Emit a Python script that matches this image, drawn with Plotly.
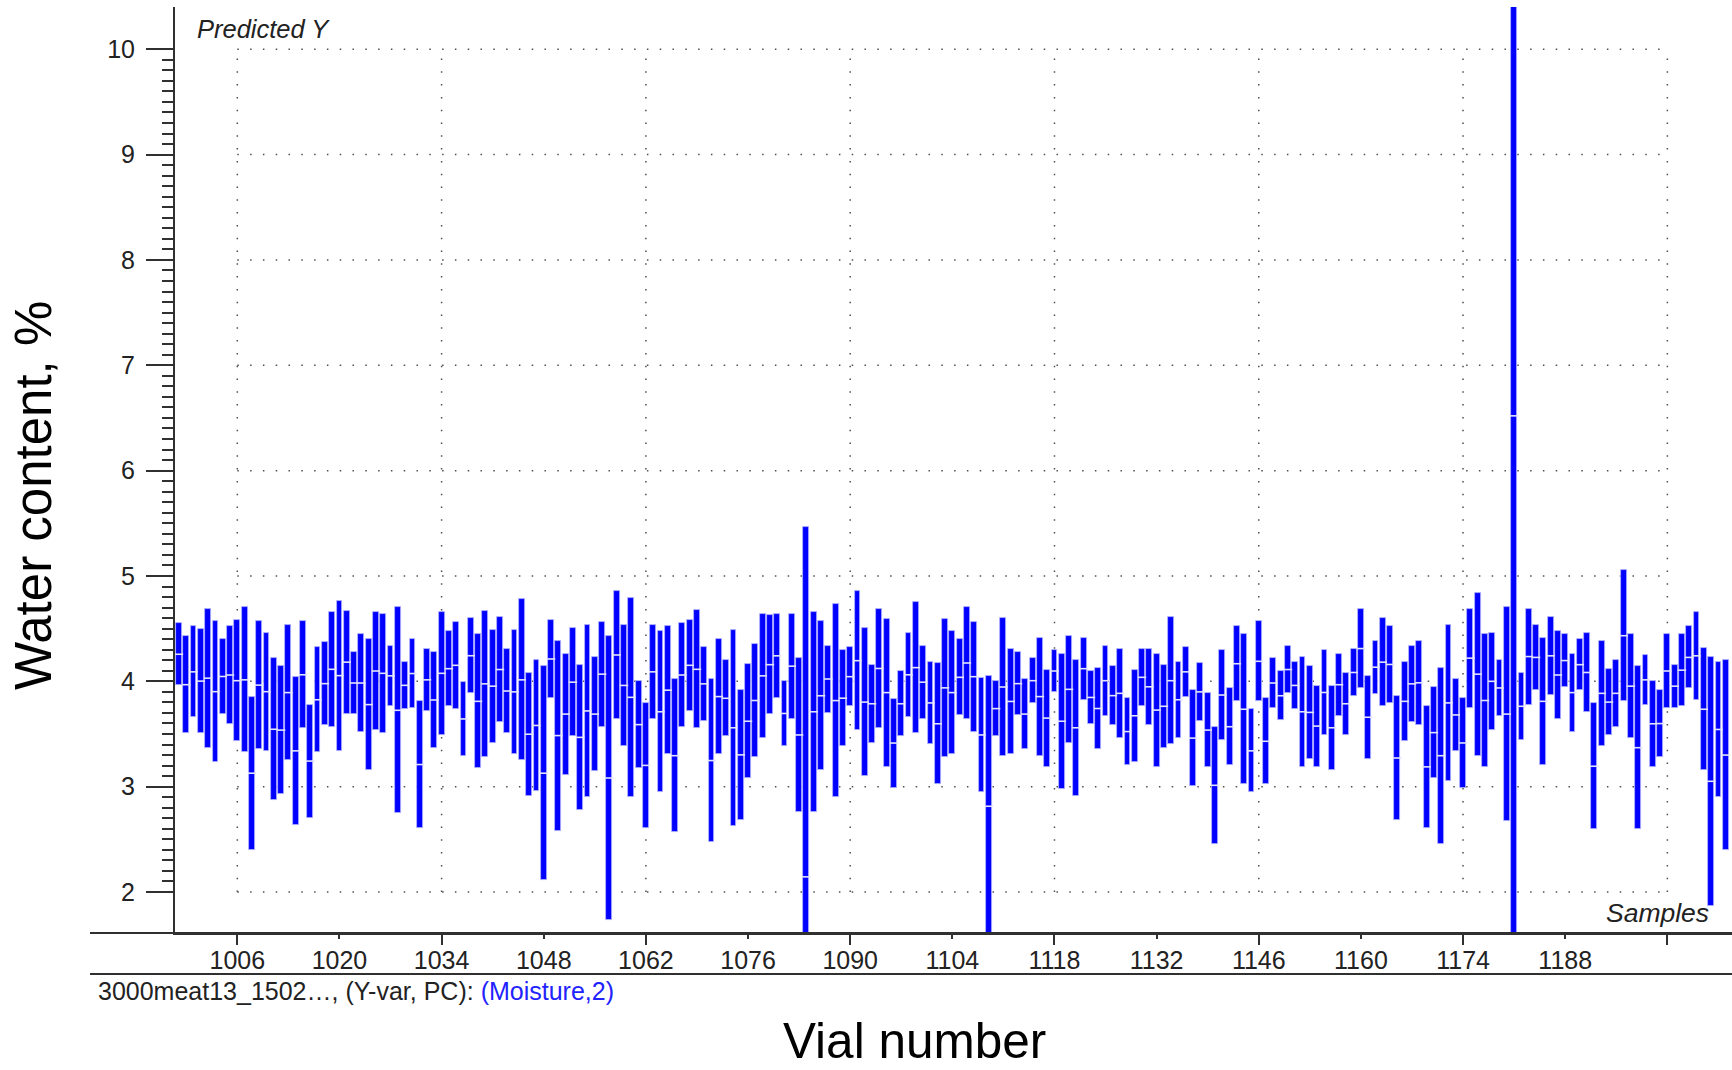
import plotly.graph_objects as go

# ---------------- data ----------------
vial = list(range(998, 1211))

predicted = [
    4.257, 3.968, 4.090, 4.002, 4.030, 3.902, 4.046, 4.060, 4.006, 4.014,
    3.128, 3.964, 3.902, 3.545, 3.537, 3.893, 3.340, 4.062, 3.243, 3.825,
    3.978, 4.114, 4.054, 4.182, 3.984, 3.984, 3.779, 4.098, 4.076, 4.052,
    3.725, 3.962, 4.074, 3.210, 4.014, 3.823, 4.076, 4.120, 4.152, 3.643,
    4.243, 3.810, 3.976, 3.954, 4.112, 3.908, 3.900, 4.014, 3.498, 3.581,
    3.128, 4.212, 3.485, 3.689, 3.992, 3.468, 3.719, 3.689, 4.068, 3.082,
    4.250, 3.961, 3.848, 3.589, 3.202, 4.090, 3.711, 3.916, 3.294, 4.060,
    4.152, 4.114, 3.976, 3.248, 3.855, 3.839, 3.559, 3.302, 3.621, 3.818,
    4.052, 4.158, 4.242, 3.695, 4.144, 3.491, 2.144, 3.711, 3.863, 4.022,
    3.817, 3.840, 4.044, 4.196, 3.803, 3.787, 4.122, 3.893, 3.414, 3.787,
    4.062, 4.130, 3.992, 3.795, 3.597, 3.938, 3.893, 4.038, 4.174, 4.044,
    3.491, 2.814, 3.741, 3.946, 3.809, 3.978, 3.689, 4.006, 3.855, 3.651,
    4.098, 3.621, 3.924, 3.559, 4.120, 3.847, 3.742, 4.006, 3.864, 3.886,
    3.523, 3.673, 4.038, 3.948, 3.727, 3.763, 4.006, 3.825, 4.090, 3.461,
    3.900, 3.537, 3.013, 3.870, 3.569, 4.167, 3.735, 3.340, 4.190, 3.431,
    3.984, 3.863, 4.112, 3.961, 3.711, 3.705, 3.575, 3.894, 3.559, 3.968,
    3.787, 4.084, 4.311, 3.659, 4.134, 4.182, 4.160, 3.272, 3.810, 3.976,
    3.986, 3.188, 3.513, 3.294, 3.795, 3.681, 3.415, 4.220, 4.068, 3.818,
    4.000, 3.937, 3.689, 6.520, 3.763, 4.235, 4.227, 3.810, 4.242, 4.060,
    4.197, 3.893, 4.158, 4.084, 3.194, 3.886, 3.803, 3.886, 4.433, 3.954,
    3.370, 4.014, 3.597, 3.599, 4.098, 3.954, 4.106, 4.227, 4.242, 3.735,
    3.051, 3.543, 3.300,
]

deviation = [
    0.294, 0.460, 0.433, 0.493, 0.660, 0.668, 0.354, 0.463, 0.577, 0.689,
    0.728, 0.607, 0.561, 0.675, 0.607, 0.643, 0.700, 0.509, 0.537, 0.499,
    0.393, 0.545, 0.712, 0.490, 0.292, 0.463, 0.621, 0.561, 0.567, 0.288,
    0.978, 0.226, 0.325, 0.599, 0.294, 0.453, 0.583, 0.355, 0.415, 0.349,
    0.355, 0.637, 0.695, 0.537, 0.499, 0.400, 0.591, 0.765, 0.583, 0.619,
    1.016, 0.371, 0.902, 0.575, 0.515, 0.689, 0.817, 0.543, 0.499, 1.349,
    0.605, 0.575, 0.946, 0.415, 0.591, 0.445, 0.765, 0.607, 0.727, 0.491,
    0.431, 0.561, 0.348, 0.773, 0.545, 0.362, 0.932, 0.615, 0.539, 0.537,
    0.591, 0.469, 0.401, 0.310, 0.499, 0.728, 3.317, 0.948, 0.705, 0.318,
    0.918, 0.455, 0.280, 0.659, 0.705, 0.370, 0.569, 0.703, 0.423, 0.310,
    0.401, 0.621, 0.348, 0.393, 0.575, 0.657, 0.583, 0.362, 0.529, 0.523,
    0.545, 1.238, 0.264, 0.652, 0.499, 0.302, 0.332, 0.213, 0.561, 0.461,
    0.197, 0.643, 0.507, 0.645, 0.295, 0.250, 0.385, 0.333, 0.280, 0.425,
    0.318, 0.439, 0.273, 0.363, 0.537, 0.393, 0.605, 0.363, 0.234, 0.455,
    0.272, 0.348, 0.553, 0.425, 0.363, 0.355, 0.712, 0.393, 0.378, 0.409,
    0.235, 0.234, 0.227, 0.227, 0.521, 0.439, 0.385, 0.401, 0.401, 0.295,
    0.294, 0.227, 0.379, 0.393, 0.250, 0.417, 0.363, 0.585, 0.378, 0.363,
    0.401, 0.577, 0.431, 0.834, 0.741, 0.340, 0.425, 0.471, 0.774, 0.629,
    0.463, 0.264, 1.014, 5.200, 0.318, 0.455, 0.311, 0.605, 0.370, 0.415,
    0.250, 0.371, 0.242, 0.379, 0.599, 0.501, 0.310, 0.318, 0.621, 0.493,
    0.774, 0.234, 0.408, 0.318, 0.349, 0.205, 0.341, 0.295, 0.417, 0.577,
    1.182, 0.645, 0.900,
]

x_label_vals = [1006, 1020, 1034, 1048, 1062, 1076, 1090, 1104, 1118, 1132, 1146, 1160, 1174, 1188]
x_grid_vals = [1006, 1034, 1062, 1090, 1118, 1146, 1174, 1202]
y_tick_vals = [2, 3, 4, 5, 6, 7, 8, 9, 10]
y_minor_vals = [v / 10 for v in range(21, 100) if v % 10 != 0]

assert len(predicted) == len(vial) == len(deviation)

bar_base = [p - d for p, d in zip(predicted, deviation)]
bar_span = [2 * d for d in deviation]

FONT = "Liberation Sans, Arial, sans-serif"
AX = "#303030"

X_RANGE = [997.46, 1210.86]
Y_RANGE = [1.611, 10.401]

fig = go.Figure()

fig.add_trace(go.Bar(
    x=vial, y=bar_span, base=bar_base, width=0.8,
    marker=dict(color="#0000ff", line=dict(color="#b4b4ff", width=0.8)),
    hoverinfo="skip", showlegend=False,
))
fig.add_trace(go.Scatter(
    x=vial, y=predicted, mode="markers", xaxis="x2",
    marker=dict(symbol="line-ew", size=6, color="#e4e4ff",
                line=dict(color="#e4e4ff", width=1.6)),
    hoverinfo="skip", showlegend=False,
))

shapes = []
dot = dict(color="#505050", width=1.5, dash="1.5px,11.3px")
for v in x_grid_vals:
    shapes.append(dict(type="line", xref="x", yref="y", x0=v, x1=v,
                       y0=y_tick_vals[0], y1=y_tick_vals[-1], line=dot, layer="below"))
for v in y_tick_vals:
    shapes.append(dict(type="line", xref="x", yref="y", x0=x_grid_vals[0], x1=x_grid_vals[-1],
                       y0=v, y1=v, line=dot, layer="below"))

W, H = 1732, 1070
L, R, T, B = 175, 0, 7, 137
pw, ph = W - L - R, H - T - B

def px(xp):
    return (xp - L) / pw

def py(yp):
    return (H - B - yp) / ph

shapes.append(dict(type="line", xref="paper", yref="paper", x0=px(90), x1=1.0,
                   y0=0, y1=0, line=dict(color=AX, width=2), layer="above"))
shapes.append(dict(type="line", xref="paper", yref="paper", x0=px(90), x1=1.0,
                   y0=py(974), y1=py(974), line=dict(color=AX, width=2), layer="above"))

annotations = [
    dict(text="<i>Predicted Y</i>", xref="paper", yref="paper", x=px(195), y=py(29),
         xanchor="left", yanchor="middle", showarrow=False,
         font=dict(family=FONT, size=25.5, color="#222")),
    dict(text="<i>Samples</i>", xref="paper", yref="paper", x=px(1711), y=py(913),
         xanchor="right", yanchor="middle", showarrow=False,
         font=dict(family=FONT, size=26.5, color="#222")),
    dict(text="Water content, %", xref="paper", yref="paper", x=px(33), y=py(496),
         xanchor="center", yanchor="middle", textangle=-90, showarrow=False,
         font=dict(family=FONT, size=51, color="#000")),
    dict(text="Vial number", xref="paper", yref="paper", x=px(914), y=py(1040),
         xanchor="center", yanchor="middle", showarrow=False,
         font=dict(family=FONT, size=49.5, color="#000")),
    dict(text="3000meat13_1502…, (Y-var, PC): <span style='color:#2222ff'>(Moisture,2)</span>",
         xref="paper", yref="paper", x=px(96), y=py(991),
         xanchor="left", yanchor="middle", showarrow=False,
         font=dict(family=FONT, size=25, color="#222")),
]

fig.update_layout(
    template="none",
    width=W, height=H,
    margin=dict(l=L, r=R, t=T, b=B, pad=0),
    paper_bgcolor="white", plot_bgcolor="white",
    showlegend=False,
    bargap=0,
    shapes=shapes,
    annotations=annotations,
    xaxis=dict(
        range=X_RANGE, tickmode="array",
        tickvals=x_label_vals + [x_grid_vals[-1]],
        ticktext=[str(v) for v in x_label_vals] + [""],
        ticks="outside", ticklen=4, tickwidth=1.5, tickcolor=AX,
        showline=True, linecolor=AX, linewidth=2,
        showgrid=False, zeroline=False, automargin=False,
        tickfont=dict(family=FONT, size=25, color="#222"),
        ticklabelstandoff=0,
    ),
    xaxis2=dict(
        range=X_RANGE, overlaying="x", anchor="y", side="bottom",
        tickmode="array", tickvals=x_grid_vals,
        ticks="outside", ticklen=11, tickwidth=1.5, tickcolor=AX,
        showticklabels=False, showline=False, showgrid=False, zeroline=False,
        automargin=False,
    ),
    yaxis=dict(
        range=Y_RANGE, tickmode="array", tickvals=y_tick_vals,
        ticktext=[str(v) for v in y_tick_vals],
        ticks="outside", ticklen=27, tickwidth=1.5, tickcolor=AX,
        minor=dict(tickmode="array", tickvals=y_minor_vals, ticks="outside",
                   ticklen=11, tickwidth=1.5, tickcolor=AX, showgrid=False),
        showline=True, linecolor=AX, linewidth=2,
        showgrid=False, zeroline=False, automargin=False,
        tickfont=dict(family=FONT, size=25, color="#222"),
        ticklabelstandoff=6,
    ),
)

fig.write_html("out.html")
